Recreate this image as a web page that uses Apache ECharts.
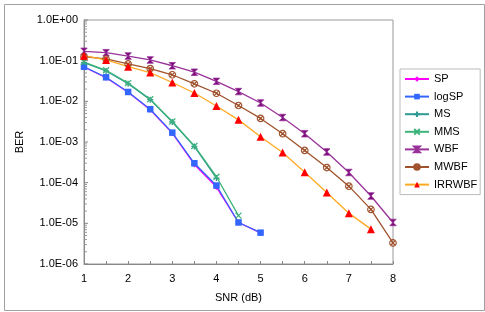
<!DOCTYPE html>
<html><head><meta charset="utf-8">
<script src="https://cdn.jsdelivr.net/npm/echarts@6/dist/echarts.min.js"></script>
<style>html,body{margin:0;padding:0;background:#fff}#c{width:485px;height:312px}</style>
</head><body><div id="c"></div>
<script>
const snr = [1,1.5,2,2.5,3,3.5,4,4.5,5,5.5,6,6.5,7,7.5,8];
const SP     = [0.070,0.038,0.0168,0.0062,0.00165,0.00028,0.000078,0.0000105,0.0000058];
const logSP  = [0.071,0.039,0.017,0.0064,0.0017,0.00030,0.000085,0.0000105,0.0000059];
const MS     = [0.090,0.056,0.027,0.011,0.0031,0.00078,0.00013];
const MMS    = [0.092,0.058,0.028,0.0113,0.0032,0.00080,0.000140,0.0000155];
const WBF    = [0.17,0.157,0.13,0.104,0.075,0.052,0.031,0.0174,0.0091,0.0040,0.0016,0.00057,0.000178,0.000047,0.0000105];
const MWBF   = [0.125,0.11,0.083,0.064,0.045,0.027,0.0158,0.0079,0.0038,0.0016,0.00062,0.000235,0.000082,0.000022,0.0000033];
const IRRWBF = [0.133,0.104,0.071,0.051,0.029,0.016,0.0077,0.0035,0.00135,0.00055,0.00018,0.000057,0.0000178,0.0000072];
const yTicks = [1e-6,1e-5,1e-4,1e-3,1e-2,1e-1,1];

const minorVals = [];
for (let e = -6; e < 0; e++) for (let k = 2; k <= 9; k++) minorVals.push(k * Math.pow(10, e));

function pairs(arr){ return arr.map((v,i)=>[snr[i], v]); }
const F = 'Liberation Sans, Arial, sans-serif';

const plusPath = 'path://M0,5L10,5M5,0L5,10';
const crossPath = 'path://M0,0L10,10M10,0L0,10';
const wbfPath = 'path://M0,0L10,0L6,4L6,6L10,10L0,10L4,6L4,4Z';
const mwbfPath = 'path://M10,5A5,5,0,1,1,0,5A5,5,0,1,1,10,5ZM1.8,1.8L8.2,8.2M8.2,1.8L1.8,8.2';

function mk(name, data, lineColor, symbol, size, item){
  return { name, type:'line', data: pairs(data), symbol, symbolSize: size, symbolKeepAspect: true,
    lineStyle:{color: lineColor, width:1.3}, itemStyle: item, z: 3 };
}

const chart = echarts.init(document.getElementById('c'));
chart.setOption({
  animation:false,
  textStyle:{fontFamily:F},
  graphic:[{type:'rect', left:2, top:2, shape:{width:480, height:306}, style:{fill:'none', stroke:'#a0a0a0', lineWidth:1}, silent:true}],
  grid:{left:84, right:92, top:20, bottom:48, show:true, borderColor:'#999', borderWidth:1},
  legend:{orient:'vertical', left:400, top:69, padding:[4,3,4,4], itemWidth:24, itemHeight:7, itemGap:5.6,
    borderColor:'#bbb', borderWidth:1, backgroundColor:'#fff',
    textStyle:{fontSize:11, fontFamily:F, color:'#000', lineHeight:12},
    data:['SP','logSP','MS','MMS','WBF','MWBF','IRRWBF']},
  xAxis:{type:'value', min:1, max:8, interval:0.5, name:'SNR (dB)', nameLocation:'middle', nameGap:28,
    nameTextStyle:{fontSize:11, color:'#000', fontFamily:F},
    axisLine:{lineStyle:{color:'#888'}}, axisTick:{inside:true, length:3, lineStyle:{color:'#888'}},
    axisLabel:{fontSize:11, color:'#000', margin:9, formatter:v=> (Math.abs(v-Math.round(v))<1e-9 ? String(v) : '')},
    splitLine:{show:false}},
  yAxis:{type:'log', logBase:10, min:1e-6, max:1, splitNumber:6, name:'BER', nameLocation:'middle', nameGap:55,
    nameTextStyle:{fontSize:11, color:'#000', fontFamily:F},
    axisLine:{show:true, lineStyle:{color:'#888'}}, axisTick:{show:false},
    axisLabel:{fontSize:11, color:'#000', margin:6, formatter:v=>{const e=Math.round(Math.log10(v)); return '1.0E'+(e<0?'-':'+')+String(Math.abs(e)).padStart(2,'0');}},
    splitLine:{show:false}},
  series:[
    {type:'custom', coordinateSystem:'cartesian2d', data: minorVals.map(v=>[1,v]), silent:true, z:1,
      renderItem:(params, api)=>{ const p = api.coord([1, api.value(1)]); return {type:'line', shape:{x1:p[0], y1:p[1], x2:p[0]+3, y2:p[1]}, style:{stroke:'#999', lineWidth:1}}; }},
    {type:'custom', coordinateSystem:'cartesian2d', data: yTicks.map(v=>[1,v]), silent:true, z:1,
      renderItem:(params, api)=>{ const p = api.coord([1, api.value(1)]); return {type:'line', shape:{x1:p[0], y1:p[1], x2:p[0]+4, y2:p[1]}, style:{stroke:'#888', lineWidth:1}}; }},
    mk('SP', SP, '#FF00FF', 'diamond', 6, {color:'#FF00FF'}),
    mk('logSP', logSP, '#3366FF', 'rect', 6.5, {color:'#3366FF'}),
    mk('MS', MS, '#2E9A94', plusPath, 6, {color:'none', borderColor:'#2E9A94', borderWidth:1.3}),
    mk('MMS', MMS, '#3DB37A', crossPath, 6, {color:'none', borderColor:'#3DB37A', borderWidth:1.3}),
    mk('WBF', WBF, '#993399', wbfPath, 6.5, {color:'#7A0A7A', borderColor:'#993399', borderWidth:0.8}),
    mk('MWBF', MWBF, '#A0522D', mwbfPath, 6.5, {color:'none', borderColor:'#A0522D', borderWidth:1.2}),
    mk('IRRWBF', IRRWBF, '#FFAA22', 'triangle', 8, {color:'#FF0000'})
  ]
});
</script></body></html>
